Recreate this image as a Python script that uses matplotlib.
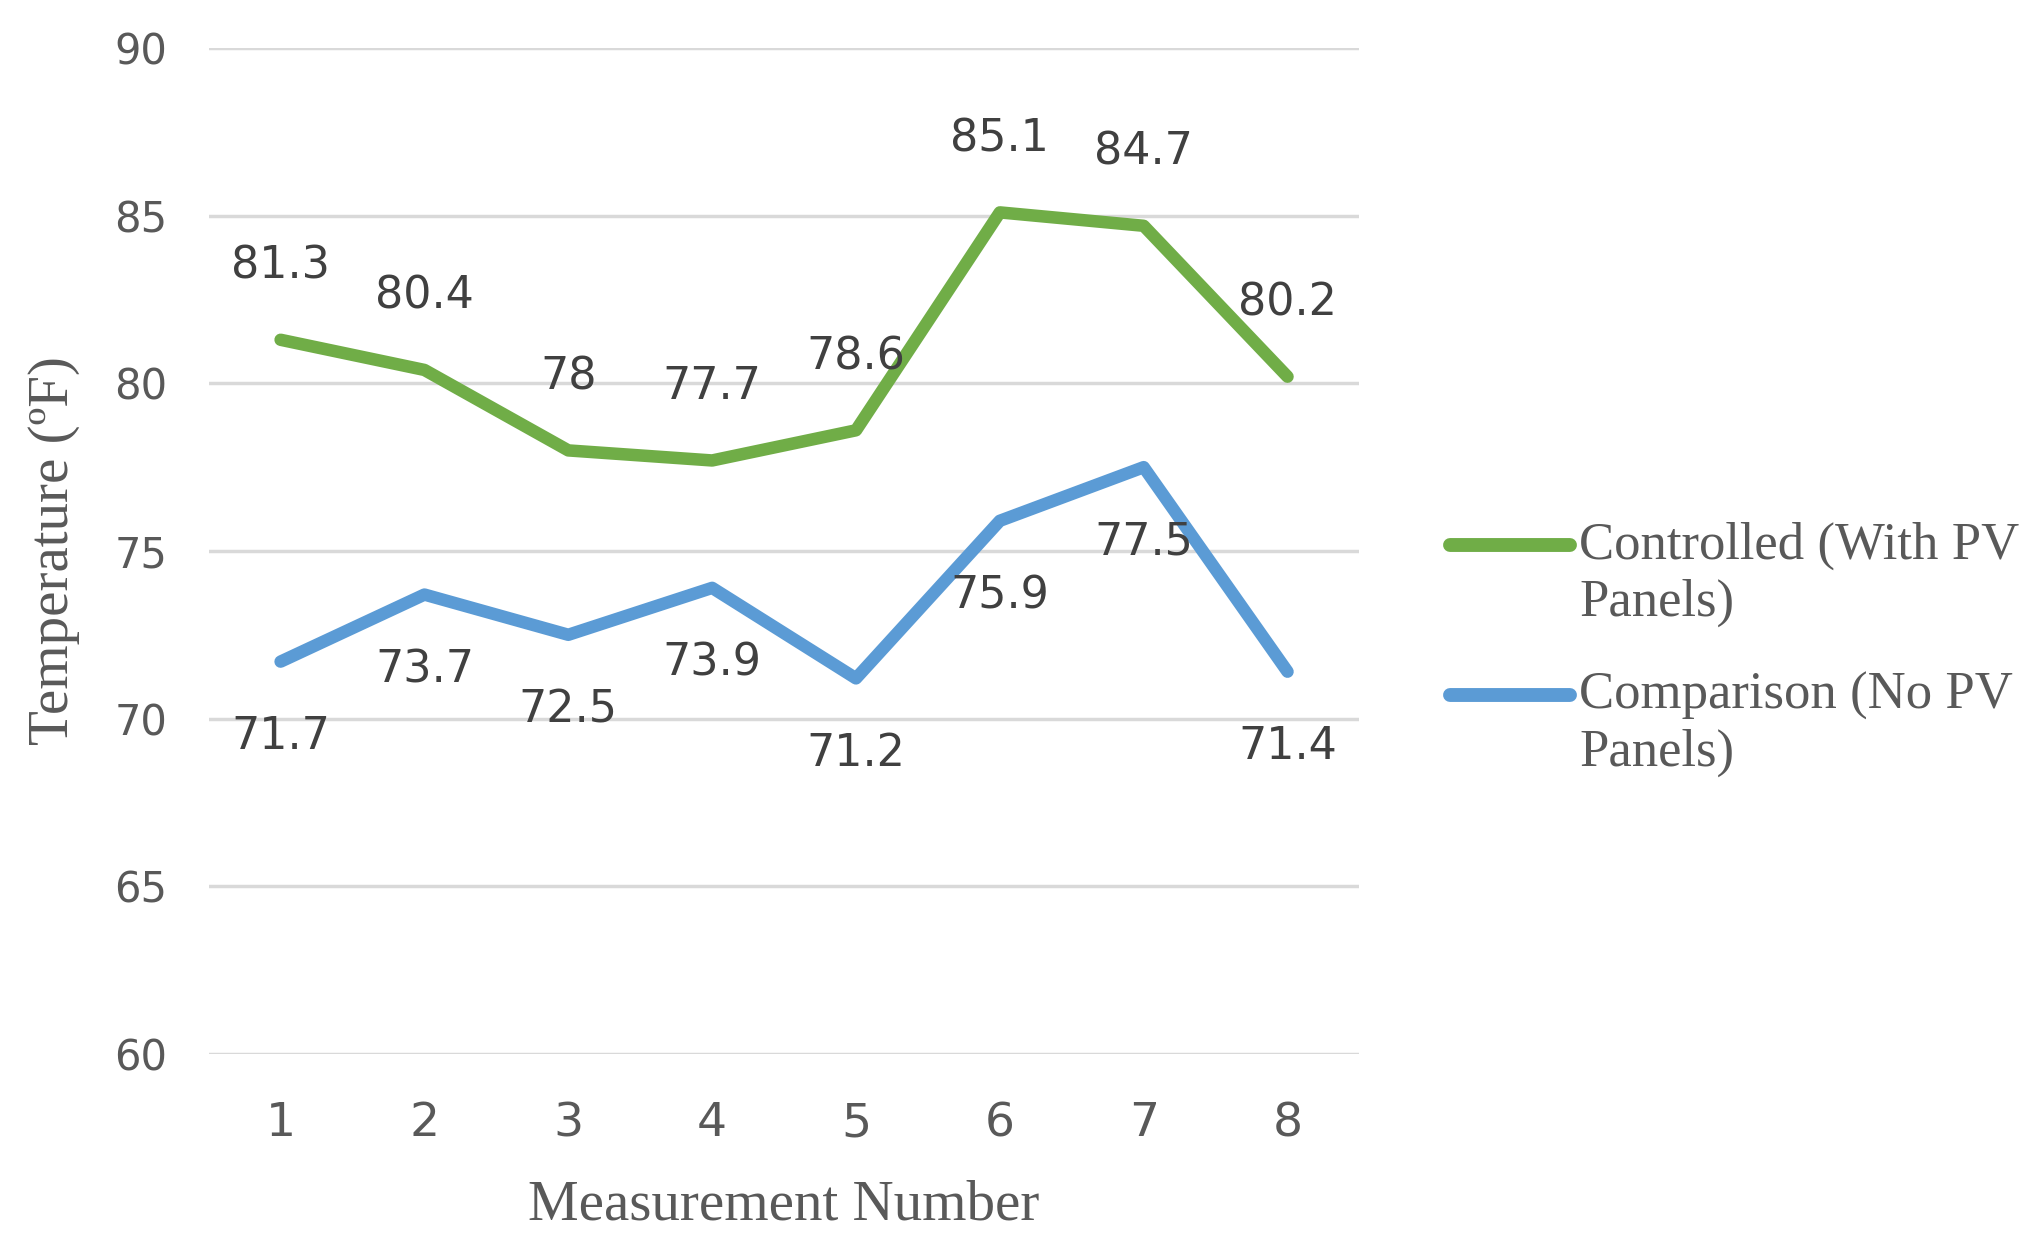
import matplotlib
matplotlib.use("Agg")
import matplotlib.pyplot as plt
from matplotlib.lines import Line2D

# Temperature readings for the two test sites
measurements = [1, 2, 3, 4, 5, 6, 7, 8]
controlled = [81.3, 80.4, 78, 77.7, 78.6, 85.1, 84.7, 80.2]
comparison = [71.7, 73.7, 72.5, 73.9, 71.2, 75.9, 77.5, 71.4]
y_ticks = [60, 65, 70, 75, 80, 85, 90]
series_names = ["Controlled (With PV\nPanels)", "Comparison (No PV\nPanels)"]

green = "#70AD47"
blue = "#5B9BD5"
text_col = "#595959"
lw = 9

fig = plt.figure(figsize=(20.26, 12.34), dpi=100)
ax = fig.add_axes([0.103, 0.146, 0.568, 0.815])

ax.plot(measurements, controlled, color=green, lw=lw, solid_capstyle="round",
        solid_joinstyle="round")
ax.plot(measurements, comparison, color=blue, lw=lw, solid_capstyle="round",
        solid_joinstyle="round")

# value labels: green above the line, blue below
for x, v in zip(measurements, controlled):
    ax.annotate(f"{v:g}", (x, v), xytext=(0, 53), textcoords="offset points",
                ha="center", va="center", fontsize=32, color="#404040")
for x, v in zip(measurements, comparison):
    ax.annotate(f"{v:g}", (x, v), xytext=(0, -54), textcoords="offset points",
                ha="center", va="center", fontsize=32, color="#404040")

ax.set_xlim(0.5, 8.5)
ax.set_ylim(60, 90)
ax.set_yticks(y_ticks)
ax.set_xticks(measurements)
ax.grid(axis="y", color="#D9D9D9", lw=2.5)
ax.set_axisbelow(True)
for s in ax.spines.values():
    s.set_visible(False)
ax.tick_params(length=0)
ax.tick_params(axis="y", pad=30, labelsize=30, labelcolor=text_col)
ax.tick_params(axis="x", pad=34, labelsize=34, labelcolor=text_col)

ax.set_xlabel("Measurement Number", family="Liberation Serif", fontsize=41,
              color=text_col)
ax.set_ylabel("Temperature (\u00baF)", family="Liberation Serif", fontsize=41,
              color=text_col)
ax.xaxis.set_label_coords(0.5, -0.125)
ax.yaxis.set_label_coords(-0.112, 0.5)

# legend at the right, handle lined up with the first line of its text
for i, (name, col) in enumerate(zip(series_names, [green, blue])):
    y = 0.558 - i * 0.1215
    fig.add_artist(Line2D([0.7157, 0.7749], [y, y], color=col, lw=lw + 1,
                          solid_capstyle="round", transform=fig.transFigure))
    fig.text(0.7795, y - 0.0235, name, family="Liberation Serif", fontsize=38,
             color=text_col, va="center", linespacing=1.25,
             transform=fig.transFigure)

fig.savefig("out.png", dpi=100)
